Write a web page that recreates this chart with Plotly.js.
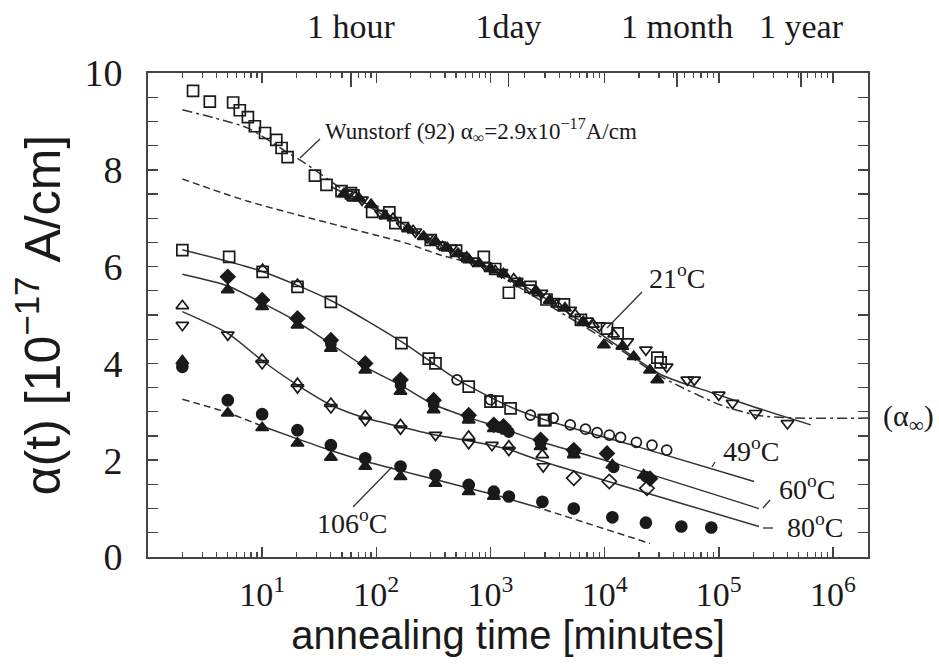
<!DOCTYPE html>
<html>
<head>
<meta charset="utf-8">
<script src="https://cdn.plot.ly/plotly-3.0.1.min.js"></script>
<style>html,body{margin:0;padding:0;background:#fff;}#chart{width:939px;height:670px;}</style>
</head>
<body>
<div id="chart"></div>
<script>
// ---------------- DATA (annealing time in minutes, alpha in 1e-17 A/cm) ----------------
// 21 C data
const sq21_t = [2.48,3.48,5.57,6.37,7.5,8.63,10.6,13.3,14.8,16.7,29,36.6,49.6,60,63,92,130,147,300,500,874,1100,1449,2240,3100,4400,6200,10500,13000,29000,31000];
const sq21_y = [9.63,9.41,9.39,9.23,9.09,8.90,8.76,8.62,8.45,8.26,7.88,7.69,7.56,7.52,7.47,7.13,7.12,6.90,6.55,6.33,6.20,5.95,5.46,5.58,5.32,5.22,4.90,4.72,4.62,4.12,4.02];
const trid21_t = [55,75,110,170,220,280,360,450,560,700,900,1250,1700,2200,2800,3600,5000,7000,9000,15800,23000,35000,53000,61000,100000,132000,210000,400000];
const trid21_y = [7.50,7.38,7.10,6.85,6.72,6.60,6.45,6.38,6.22,6.12,6.02,5.88,5.70,5.56,5.45,5.28,5.10,4.88,4.78,4.45,4.28,3.93,3.66,3.66,3.35,3.18,2.97,2.76];
const trif21_t = [52,70,90,120,190,260,330,420,520,650,800,1000,1300,1800,2500,3300,4500,6500,9860,14300,18000,25000,29000];
const trif21_y = [7.50,7.42,7.28,7.05,6.78,6.62,6.52,6.38,6.27,6.14,6.06,5.96,5.85,5.66,5.50,5.30,5.14,4.86,4.38,4.35,4.14,3.86,3.66];
const triu21_t = [65,140,210,380,620,1100,1600,2600,3800,5500,8000,12000];
const triu21_y = [7.45,7.00,6.75,6.42,6.20,5.92,5.75,5.45,5.22,5.02,4.80,4.60];
// 49 C data
const sq49_t = [2,5.14,10.1,20.4,40,166,288,330,645,1000,1150,1500,2940,3030];
const sq49_y = [6.34,6.20,5.89,5.58,5.27,4.42,4.10,4.00,3.52,3.21,3.21,3.07,2.83,2.83];
const triu49_t = [10.1,20.4];
const triu49_y = [5.95,5.64];
const circ49_t = [510,1000,2240,3550,5000,6800,8600,11000,13800,19000,26000,35000];
const circ49_y = [3.66,3.25,2.93,2.87,2.73,2.64,2.57,2.52,2.47,2.37,2.31,2.21];
// 60 C data
const dia60_t = [5,10,20.4,40,80,163,318,645,1070,1300,2750,5370,10500,25000];
const dia60_y = [5.79,5.31,4.93,4.48,4.00,3.66,3.24,2.93,2.73,2.70,2.42,2.21,2.14,1.62];
const trif60_t = [5,10,20.4,40,80,163,318,645,1070,1400,2750,5370,11700,22000];
const trif60_y = [5.52,5.17,4.79,4.31,3.86,3.42,3.04,2.83,2.65,2.60,2.28,2.11,1.90,1.69];
const circ60_t = [40,163,318,645,1200,1450,2750,5370,12000,23000];
const circ60_y = [4.40,3.55,3.15,2.88,2.68,2.58,2.35,2.16,1.85,1.66];
// 80 C data
const triu80_t = [2,10,20.4,40,80,163,645,1450,2850];
const triu80_y = [5.19,4.08,3.58,3.17,2.91,2.73,2.49,2.29,2.11];
const trid80_t = [2,5,10,20.4,40,80,163,330,645,1030,1450,2900];
const trid80_y = [4.79,4.59,4.00,3.50,3.09,2.83,2.65,2.52,2.35,2.31,2.21,1.87];
const dia80_t = [5370,11000,23500];
const dia80_y = [1.63,1.56,1.42];
// 106 C data
const circ106_t = [2,5,10,20.4,40,80,163,330,645,1070,1450,2850,5370,11700,23000,47000,86000];
const circ106_y = [3.93,3.24,2.95,2.62,2.31,2.04,1.87,1.69,1.49,1.35,1.25,1.14,1.00,0.82,0.71,0.63,0.61];
const trif106_t = [2,5,10,20.4,40,80,163,330,645,1070];
const trif106_y = [4.05,2.97,2.67,2.35,2.06,1.87,1.66,1.52,1.35,1.25];

// curves
const wun_t = [2,3.85,7.5,16.9,23.7,50,100,300,1000,3000,10000,31000,104000,218000,460000,2030000];
const wun_y = [9.24,9.07,8.86,8.35,8.14,7.6,7.15,6.5,5.92,5.25,4.5,3.73,3.14,2.93,2.87,2.87];
const dash_t = [2,7.5,48,185,364,1000];
const dash_y = [7.81,7.35,6.84,6.48,6.24,5.98];
const fit21_t = [40,100,300,1000,3000,10000,31000,91000,204000,640000];
const fit21_y = [7.65,7.2,6.55,5.97,5.35,4.55,3.77,3.38,3.10,2.73];
const fit49_t = [2,10,40,166,500,1500,3030,20000,204000];
const fit49_y = [6.35,5.9,5.3,4.45,3.68,3.1,2.83,2.27,1.56];
const fit60_t = [2,5,10,20,40,80,163,318,645,1200,2750,11000,225000];
const fit60_y = [5.84,5.6,5.25,4.87,4.4,3.93,3.55,3.15,2.88,2.68,2.38,1.97,1.0];
const fit80_t = [2,5,10,20.4,40,80,163,330,645,1450,2750,225000];
const fit80_y = [5.07,4.62,4.06,3.55,3.14,2.87,2.69,2.52,2.40,2.22,1.99,0.63];
const fit106a_t = [2,5,10.6];
const fit106a_y = [3.26,2.98,2.68];
const fit106b_t = [10.6,20.4,40,80,160,330,645,1070,1450,2400];
const fit106b_y = [2.68,2.44,2.2,1.98,1.79,1.6,1.42,1.29,1.2,1.05];
const fit106c_t = [2400,25000];
const fit106c_y = [1.05,0.28];

// axis ticks
const xTickVals = [10,100,1000,10000,100000,1000000];
const xTickText = ['10<sup>1</sup>','10<sup>2</sup>','10<sup>3</sup>','10<sup>4</sup>','10<sup>5</sup>','10<sup>6</sup>'];
const topTickVals = [60,1440,43200,525600];
const topTickText = ['1 hour','1day','1 month','1 year'];
const xRangeMax = 2030000;

// ---------------- STYLE ----------------
const INK = '#1a1a1a';
const AX = '#444';
const SERIF = 'Liberation Serif, Times New Roman, serif';
const SANS = 'Liberation Sans, Arial, sans-serif';

function pts(t, y, symbol, size) {
  return {x: t, y: y, type: 'scatter', mode: 'markers', hoverinfo: 'skip', showlegend: false, cliponaxis: false,
    marker: {symbol: symbol, size: size || 11, color: INK, line: {color: INK, width: 1.7}}};
}
function curve(t, y, dash, width) {
  return {x: t, y: y, type: 'scatter', mode: 'lines', hoverinfo: 'skip', showlegend: false,
    line: {color: '#333', width: width || 1.5, dash: dash || 'solid', shape: 'spline', smoothing: 0.7}};
}

const traces = [
  curve(wun_t, wun_y, '10px,4px,3px,4px'),
  curve(dash_t, dash_y, '7px,4px'),
  curve(fit21_t, fit21_y),
  curve(fit49_t, fit49_y),
  curve(fit60_t, fit60_y),
  curve(fit80_t, fit80_y),
  curve(fit106a_t, fit106a_y, '7px,4px'),
  curve(fit106b_t, fit106b_y),
  curve(fit106c_t, fit106c_y, '7px,4px'),
  pts(sq21_t, sq21_y, 'square-open', 11),
  pts(trid21_t, trid21_y, 'triangle-down-open', 11),
  pts(trif21_t, trif21_y, 'triangle-up', 11),
  pts(triu21_t, triu21_y, 'triangle-up-open', 10),
  pts(sq49_t, sq49_y, 'square-open', 11),
  pts(triu49_t, triu49_y, 'triangle-up-open', 10),
  pts(circ49_t, circ49_y, 'circle-open', 10),
  pts(dia60_t, dia60_y, 'diamond', 11),
  pts(trif60_t, trif60_y, 'triangle-up', 11),
  pts(circ60_t, circ60_y, 'circle', 10),
  pts(triu80_t, triu80_y, 'triangle-up-open', 11),
  pts(trid80_t, trid80_y, 'triangle-down-open', 11),
  pts(dia80_t, dia80_y, 'diamond-open', 11),
  pts(circ106_t, circ106_y, 'circle', 11),
  pts(trif106_t, trif106_y, 'triangle-up', 11),
  // carrier for the top (time-unit) axis
  {x: topTickVals, y: topTickVals.map(() => null), xaxis: 'x2', yaxis: 'y', type: 'scatter', mode: 'markers',
   hoverinfo: 'skip', showlegend: false, marker: {opacity: 0}}
];

// minor x ticks at 2..9 of each decade
const minorX = [];
for (let d = 0; d <= 6; d++) for (let m = 2; m <= 9; m++) { const v = m * Math.pow(10, d); if (v <= xRangeMax) minorX.push(v); }

const xr = [0, Math.log10(xRangeMax)];

// helpers to place text in paper coordinates from pixel positions of the plot frame
const L = 148, R = 868, T = 73, B = 557;
const px = v => (v - L) / (R - L);
const py = v => (B - v) / (B - T);

function label(text, x, y, size, anchor) {
  return {xref: 'paper', yref: 'paper', x: px(x), y: py(y), text: text, showarrow: false,
    xanchor: anchor || 'center', yanchor: 'middle', font: {family: SERIF, size: size, color: INK}};
}
function leader(x0, y0, x1, y1) {
  return {type: 'line', xref: 'paper', yref: 'paper', x0: px(x0), y0: py(y0), x1: px(x1), y1: py(y1),
    line: {color: '#333', width: 1.3}};
}

const layout = {
  width: 939, height: 670,
  margin: {l: L, r: 939 - R, t: T, b: 670 - B},
  paper_bgcolor: '#fff', plot_bgcolor: '#fff',
  showlegend: false,
  xaxis: {
    type: 'log', range: xr, tickmode: 'array', tickvals: xTickVals, ticktext: xTickText,
    ticks: 'inside', ticklen: 10, tickwidth: 1.5, tickcolor: AX,
    showline: true, linecolor: AX, linewidth: 2, mirror: 'allticks',
    showgrid: false, zeroline: false,
    tickfont: {family: SERIF, size: 34, color: INK}, ticklabelstandoff: 6,
    minor: {tickmode: 'array', tickvals: minorX, ticks: 'inside', ticklen: 5, tickwidth: 1.2, tickcolor: AX, showgrid: false},
    title: {text: 'annealing time [minutes]', font: {family: SANS, size: 40, color: INK}, standoff: 9}
  },
  xaxis2: {
    overlaying: 'x', side: 'top', anchor: 'y', type: 'log', range: xr,
    tickmode: 'array', tickvals: topTickVals, ticktext: topTickText,
    ticks: 'inside', ticklen: 14, tickwidth: 1.5, tickcolor: AX,
    showline: false, showgrid: false, zeroline: false,
    tickfont: {family: SERIF, size: 34, color: INK}, ticklabelstandoff: 27
  },
  yaxis: {
    range: [0, 10], tickmode: 'linear', tick0: 0, dtick: 2,
    ticks: 'inside', ticklen: 10, tickwidth: 1.5, tickcolor: AX,
    showline: true, linecolor: AX, linewidth: 2, mirror: 'allticks',
    showgrid: false, zeroline: false,
    tickfont: {family: SERIF, size: 38, color: INK}, ticklabelstandoff: 16,
    minor: {dtick: 0.5, tick0: 0, ticks: 'inside', ticklen: 5, tickwidth: 1.2, tickcolor: AX, showgrid: false},
    title: {text: 'α(t) [10<sup>−17</sup> A/cm]', font: {family: SANS, size: 50, color: INK}, standoff: 8}
  },
  annotations: [
    label('Wunstorf (92) α<sub>∞</sub>=2.9x10<sup>−17</sup>A/cm', 323, 130, 23, 'left'),
    label('21<sup>o</sup>C', 677, 276, 28),
    label('49<sup>o</sup>C', 751, 449, 28),
    label('60<sup>o</sup>C', 807, 487, 28),
    label('80<sup>o</sup>C', 815, 525, 28),
    label('106<sup>o</sup>C', 352, 521, 28),
    label('(α<sub>∞</sub>)', 881, 418, 30, 'left')
  ],
  shapes: [
    leader(300, 158, 320, 139),
    leader(607, 328, 642, 292),
    leader(353, 507, 392, 467),
    leader(712, 467, 715, 462),
    leader(763, 508, 770, 500),
    leader(763, 528, 773, 528)
  ]
};

Plotly.newPlot('chart', traces, layout, {staticPlot: true, displayModeBar: false});
</script>
</body>
</html>
